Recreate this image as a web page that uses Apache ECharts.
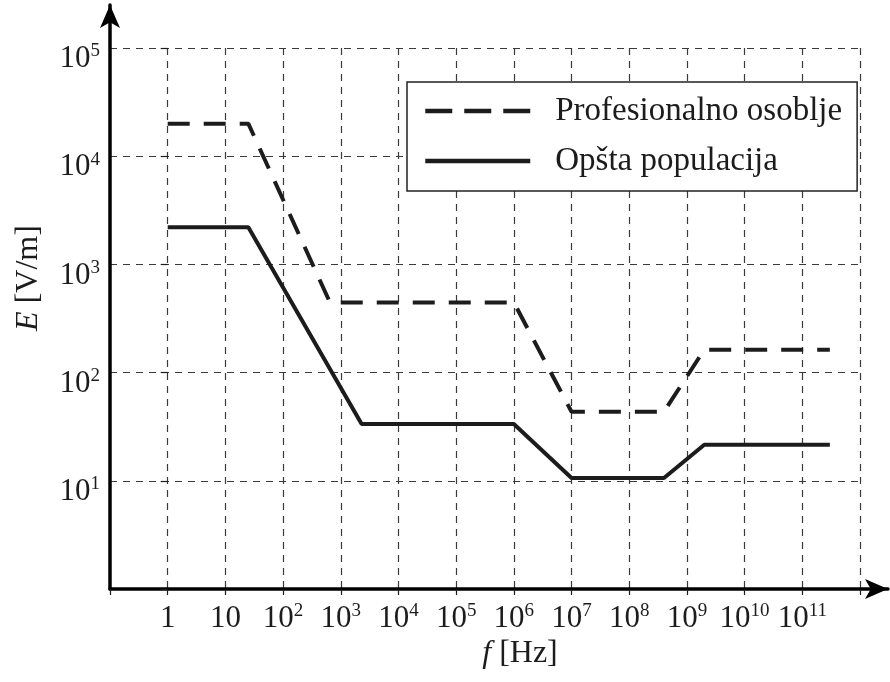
<!DOCTYPE html>
<html>
<head>
<meta charset="utf-8">
<script src="https://cdn.jsdelivr.net/npm/echarts@6/dist/echarts.min.js"></script>
<style>
  html, body { margin: 0; padding: 0; background: #fff; }
  #chart { width: 890px; height: 682px; }
</style>
</head>
<body>
<div id="chart"></div>
<script>
// frequency in Hz, field strength in V/m (both)
const profName = 'Profesionalno osoblje'
const profFreq = [1, 25, 650, 1e6, 1e7, 4e8, 2e9, 3e11]
const profE = [20000, 20000, 445, 445, 43.5, 43.5, 163, 163]

const pubName = 'Opšta populacija'
const pubFreq = [1, 25, 2300, 1e6, 1e7, 4e8, 2e9, 3e11]
const pubE = [2200, 2200, 33.5, 33.5, 10.6, 10.6, 21.5, 21.5]

// decade exponents shown on the axes
const xDecades = [0, 1, 2, 3, 4, 5, 6, 7, 8, 9, 10, 11]
const yDecades = [1, 2, 3, 4, 5]

const FONT = 'Liberation Serif'
const INK = '#1c1c1c'

const chart = echarts.init(document.getElementById('chart'), null, { renderer: 'canvas' })

function toLog(freqs, values) {
  return freqs.map((f, i) => [Math.log10(f), Math.log10(values[i])])
}

// 10^n label as rich text (x axis writes 1 and 10 plainly)
function xLabel(n) {
  if (n === 0) return '{b|1}'
  if (n === 1) return '{b|10}'
  return '{b|10}{s|' + n + '}'
}
function yLabel(n) {
  return '{b|10}{s|' + n + '}'
}

const labelRich = {
  b: { fontFamily: FONT, fontSize: 31, color: INK, lineHeight: 34 },
  s: { fontFamily: FONT, fontSize: 19, color: INK, verticalAlign: 'top', lineHeight: 34 },
}

const gridLine = { show: true, showMinLine: false, showMaxLine: true, lineStyle: { color: '#3a3a3a', width: 1.2, type: [7, 6] } }
const arrowLine = { show: true, symbol: ['none', 'arrow'], symbolSize: [15, 23], lineStyle: { color: '#000', width: 3.5 } }

const option = {
  animation: false,
  backgroundColor: '#fff',
  grid: [
    { left: 110, right: 30, top: 48, bottom: 93 },
    { left: 110, right: 2, top: 5, bottom: 93 },
  ],
  xAxis: [
    {
      type: 'value', gridIndex: 0, min: -1, max: 12, interval: 1,
      axisLine: { show: false },
      axisTick: { show: true, length: 6, lineStyle: { color: INK, width: 1.2 } },
      splitLine: gridLine,
      axisLabel: {
        margin: 13,
        formatter: v => (xDecades.includes(v) ? xLabel(v) : ''),
        rich: labelRich,
      },
    },
    {
      type: 'value', gridIndex: 1, min: 0, max: 1,
      axisLine: arrowLine,
      axisTick: { show: false }, axisLabel: { show: false }, splitLine: { show: false },
    },
  ],
  yAxis: [
    {
      type: 'value', gridIndex: 0, min: 0, max: 5, interval: 1,
      axisLine: { show: false },
      axisTick: { show: true, length: 7, lineStyle: { color: INK, width: 1.2 } },
      splitLine: gridLine,
      axisLabel: {
        margin: 10,
        padding: [22, 0, 0, 0],
        formatter: v => (yDecades.includes(v) ? yLabel(v) : ''),
        rich: labelRich,
      },
    },
    {
      type: 'value', gridIndex: 1, min: 0, max: 1,
      axisLine: arrowLine,
      axisTick: { show: false }, axisLabel: { show: false }, splitLine: { show: false },
    },
  ],
  legend: {
    left: 407,
    top: 82,
    orient: 'vertical',
    selectedMode: false,
    backgroundColor: '#fff',
    borderColor: '#222',
    borderWidth: 1.5,
    borderRadius: 0,
    padding: [12, 15, 13, 16],
    itemWidth: 105,
    itemHeight: 14,
    itemGap: 16,
    itemStyle: { color: 'rgba(0,0,0,0)', borderColor: 'rgba(0,0,0,0)', borderWidth: 0 },
    textStyle: { fontFamily: FONT, fontSize: 33, color: INK, lineHeight: 34, padding: [0, 0, 0, 20] },
    data: [
      { name: profName, lineStyle: { type: [27, 12], width: 4.5, color: INK } },
      { name: pubName, lineStyle: { width: 4.5, color: INK } },
    ],
  },
  graphic: [
    {
      type: 'text', x: 520, y: 654,
      style: {
        text: '{i|f} [Hz]', align: 'center', verticalAlign: 'middle',
        fontFamily: FONT, fontSize: 32, fill: INK,
        rich: { i: { fontFamily: FONT, fontSize: 32, fontStyle: 'italic', color: INK } },
      },
    },
    {
      type: 'text', x: 29, y: 278, rotation: Math.PI / 2,
      style: {
        text: '{i|E} [V/m]', align: 'center', verticalAlign: 'middle',
        fontFamily: FONT, fontSize: 32, fill: INK,
        rich: { i: { fontFamily: FONT, fontSize: 32, fontStyle: 'italic', color: INK } },
      },
    },
  ],
  series: [
    {
      name: profName, type: 'line', xAxisIndex: 0, yAxisIndex: 0,
      data: toLog(profFreq, profE),
      showSymbol: false, symbol: 'none',
      lineStyle: { color: INK, width: 4, type: [22, 14] },
      itemStyle: { color: INK },
    },
    {
      name: pubName, type: 'line', xAxisIndex: 0, yAxisIndex: 0,
      data: toLog(pubFreq, pubE),
      showSymbol: false, symbol: 'none',
      lineStyle: { color: INK, width: 4 },
      itemStyle: { color: INK },
    },
  ],
}

chart.setOption(option)
window.addEventListener('resize', () => chart.resize())
</script>
</body>
</html>
